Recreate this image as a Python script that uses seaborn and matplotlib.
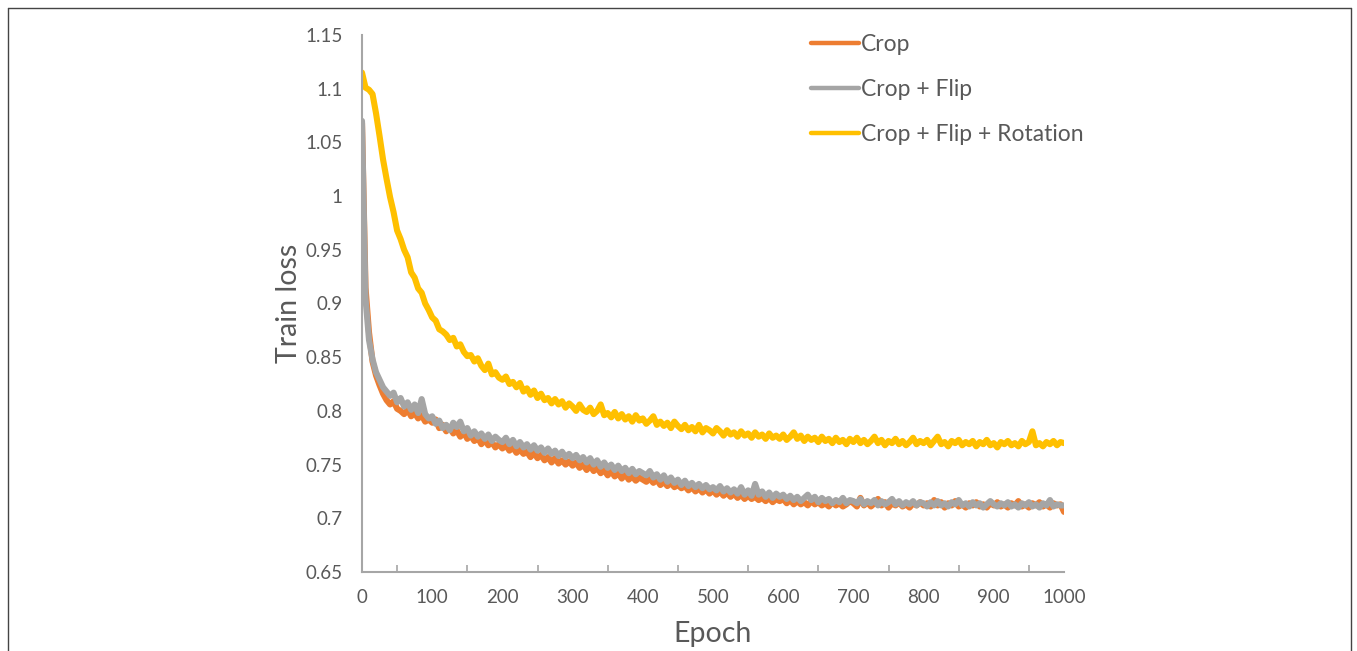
import numpy as np
import pandas as pd
import matplotlib
matplotlib.use("Agg")
import matplotlib.pyplot as plt
import seaborn as sns
from matplotlib.lines import Line2D

# Values, one point every 5 epochs (0..1000)
epochs = list(range(0, 1001, 5))

crop = [
    1.068, 0.915, 0.873, 0.846, 0.833, 0.824, 0.816, 0.810, 0.806, 0.809, 0.802, 0.800, 0.797, 0.801, 0.795, 0.798, 0.793, 0.796, 0.790, 0.792,
    0.789, 0.792, 0.784, 0.787, 0.781, 0.785, 0.779, 0.782, 0.776, 0.780, 0.774, 0.777, 0.772, 0.775, 0.769, 0.773, 0.768, 0.771, 0.766, 0.769,
    0.765, 0.768, 0.763, 0.766, 0.761, 0.764, 0.760, 0.762, 0.757, 0.761, 0.756, 0.759, 0.754, 0.757, 0.752, 0.756, 0.751, 0.754, 0.750, 0.753,
    0.749, 0.752, 0.747, 0.750, 0.745, 0.749, 0.744, 0.747, 0.742, 0.745, 0.740, 0.744, 0.739, 0.742, 0.737, 0.741, 0.736, 0.739, 0.735, 0.738,
    0.736, 0.734, 0.737, 0.733, 0.736, 0.731, 0.734, 0.730, 0.733, 0.729, 0.731, 0.728, 0.730, 0.726, 0.729, 0.725, 0.728, 0.724, 0.727, 0.723,
    0.726, 0.722, 0.725, 0.721, 0.724, 0.720, 0.723, 0.719, 0.722, 0.718, 0.721, 0.718, 0.720, 0.717, 0.719, 0.716, 0.719, 0.715, 0.718, 0.716,
    0.718, 0.714, 0.717, 0.713, 0.716, 0.713, 0.715, 0.712, 0.716, 0.713, 0.715, 0.712, 0.714, 0.711, 0.715, 0.712, 0.714, 0.711, 0.713, 0.716,
    0.714, 0.711, 0.719, 0.712, 0.715, 0.711, 0.714, 0.718, 0.712, 0.715, 0.710, 0.714, 0.712, 0.715, 0.711, 0.713, 0.710, 0.714, 0.712, 0.715,
    0.712, 0.714, 0.711, 0.717, 0.712, 0.715, 0.710, 0.714, 0.712, 0.716, 0.711, 0.713, 0.710, 0.714, 0.712, 0.715, 0.711, 0.713, 0.710, 0.714,
    0.712, 0.715, 0.711, 0.713, 0.710, 0.714, 0.712, 0.716, 0.711, 0.713, 0.710, 0.714, 0.712, 0.715, 0.711, 0.713, 0.710, 0.714, 0.712, 0.713,
    0.706,
]

crop_flip = [
    1.070, 0.905, 0.866, 0.848, 0.836, 0.829, 0.822, 0.818, 0.814, 0.817, 0.808, 0.812, 0.804, 0.808, 0.801, 0.806, 0.798, 0.811, 0.797, 0.793,
    0.795, 0.788, 0.791, 0.784, 0.787, 0.782, 0.789, 0.785, 0.790, 0.781, 0.784, 0.777, 0.781, 0.776, 0.779, 0.774, 0.778, 0.772, 0.776, 0.773,
    0.771, 0.775, 0.769, 0.773, 0.767, 0.771, 0.766, 0.769, 0.764, 0.768, 0.763, 0.766, 0.761, 0.765, 0.760, 0.763, 0.758, 0.762, 0.757, 0.760,
    0.756, 0.759, 0.754, 0.757, 0.752, 0.756, 0.750, 0.754, 0.748, 0.752, 0.747, 0.750, 0.745, 0.749, 0.744, 0.747, 0.742, 0.746, 0.741, 0.744,
    0.742, 0.740, 0.744, 0.738, 0.741, 0.736, 0.740, 0.734, 0.738, 0.733, 0.736, 0.731, 0.735, 0.730, 0.733, 0.729, 0.732, 0.728, 0.731, 0.727,
    0.729, 0.726, 0.730, 0.725, 0.728, 0.724, 0.727, 0.723, 0.729, 0.722, 0.726, 0.721, 0.732, 0.722, 0.725, 0.720, 0.724, 0.719, 0.723, 0.720,
    0.722, 0.718, 0.721, 0.717, 0.720, 0.716, 0.719, 0.722, 0.717, 0.720, 0.715, 0.719, 0.716, 0.718, 0.714, 0.717, 0.715, 0.719, 0.714, 0.717,
    0.716, 0.714, 0.718, 0.713, 0.716, 0.714, 0.717, 0.712, 0.716, 0.713, 0.715, 0.718, 0.713, 0.716, 0.712, 0.715, 0.713, 0.716, 0.712, 0.715,
    0.714, 0.711, 0.715, 0.712, 0.716, 0.712, 0.714, 0.711, 0.715, 0.713, 0.717, 0.712, 0.714, 0.711, 0.715, 0.712, 0.714, 0.710, 0.713, 0.716,
    0.713, 0.711, 0.714, 0.712, 0.715, 0.711, 0.713, 0.710, 0.714, 0.712, 0.715, 0.711, 0.713, 0.710, 0.714, 0.712, 0.717, 0.711, 0.713, 0.712,
    0.712,
]

crop_flip_rot = [
    1.115, 1.101, 1.099, 1.095, 1.077, 1.056, 1.034, 1.016, 0.999, 0.985, 0.968, 0.960, 0.950, 0.943, 0.929, 0.924, 0.914, 0.910, 0.900, 0.894,
    0.887, 0.884, 0.876, 0.874, 0.871, 0.866, 0.868, 0.860, 0.862, 0.855, 0.851, 0.852, 0.846, 0.849, 0.842, 0.838, 0.844, 0.834, 0.836, 0.831,
    0.829, 0.832, 0.825, 0.827, 0.822, 0.826, 0.818, 0.821, 0.815, 0.819, 0.812, 0.816, 0.810, 0.812, 0.807, 0.811, 0.806, 0.809, 0.803, 0.807,
    0.804, 0.800, 0.806, 0.801, 0.799, 0.803, 0.797, 0.800, 0.806, 0.796, 0.798, 0.794, 0.799, 0.793, 0.797, 0.792, 0.795, 0.790, 0.796, 0.791,
    0.793, 0.788, 0.791, 0.795, 0.787, 0.790, 0.786, 0.789, 0.784, 0.790, 0.786, 0.783, 0.787, 0.782, 0.785, 0.781, 0.787, 0.780, 0.784, 0.782,
    0.779, 0.784, 0.781, 0.777, 0.782, 0.778, 0.780, 0.776, 0.781, 0.777, 0.779, 0.775, 0.780, 0.776, 0.778, 0.774, 0.779, 0.775, 0.777, 0.774,
    0.778, 0.773, 0.776, 0.780, 0.774, 0.777, 0.772, 0.776, 0.773, 0.775, 0.771, 0.776, 0.772, 0.774, 0.770, 0.775, 0.771, 0.773, 0.769, 0.774,
    0.771, 0.775, 0.770, 0.773, 0.769, 0.772, 0.776, 0.770, 0.773, 0.768, 0.772, 0.770, 0.774, 0.769, 0.772, 0.768, 0.771, 0.775, 0.769, 0.772,
    0.770, 0.773, 0.768, 0.772, 0.776, 0.769, 0.771, 0.767, 0.772, 0.770, 0.773, 0.768, 0.771, 0.769, 0.772, 0.767, 0.771, 0.769, 0.773, 0.768,
    0.770, 0.766, 0.771, 0.769, 0.772, 0.768, 0.770, 0.767, 0.772, 0.769, 0.771, 0.781, 0.768, 0.770, 0.767, 0.771, 0.769, 0.772, 0.768, 0.771,
    0.770,
]

labels = ["Crop", "Crop + Flip", "Crop + Flip + Rotation"]
colors = ["#ED7D31", "#A5A5A5", "#FFC000"]

df = pd.concat([
    pd.DataFrame({"Epoch": epochs, "loss": vals, "setting": name})
    for name, vals in zip(labels, [crop, crop_flip, crop_flip_rot])
])

sns.set_theme(style="white")
plt.rcParams["font.family"] = ["Lato", "DejaVu Sans"]
text_col = "#595959"
axis_col = "#A6A6A6"

W, H = 1357, 651
fig = plt.figure(figsize=(W / 100, H / 100), dpi=100)
ax = fig.add_axes([362 / W, 1 - 572 / H, (1064 - 362) / W, (572 - 35) / H])

sns.lineplot(data=df, x="Epoch", y="loss", hue="setting", hue_order=labels,
             palette=colors, estimator=None, linewidth=4.4, ax=ax)

ax.set_xlim(0, 1000)
ax.set_ylim(0.65, 1.15)
ax.set_xticks(np.arange(0, 1001, 100))
ax.set_xticks(np.arange(0, 1001, 50), minor=True)
ax.set_yticks(np.arange(0.65, 1.1501, 0.05))
ax.yaxis.set_major_formatter(plt.FuncFormatter(lambda v, p: f"{round(v, 2):g}"))

for s in ["top", "right"]:
    ax.spines[s].set_visible(False)
for s in ["left", "bottom"]:
    ax.spines[s].set_color(axis_col)
    ax.spines[s].set_linewidth(1.5)

ax.tick_params(axis="both", which="both", direction="in", length=5, width=1.2,
               color=axis_col, labelcolor=text_col, labelsize=13.5)
ax.tick_params(axis="x", which="major", pad=12)
ax.tick_params(axis="y", which="major", pad=14)
ax.tick_params(axis="x", which="minor", bottom=True)

ax.set_xlabel("Epoch", fontsize=20.5, color=text_col, labelpad=11)
ax.set_ylabel("Train loss", fontsize=20.5, color=text_col, labelpad=2)

leg = ax.legend(loc="upper left", bbox_to_anchor=(790 / W, 1 - 13 / H),
                bbox_transform=fig.transFigure, frameon=False, fontsize=16.5,
                handlelength=2.1, handletextpad=0.1, labelspacing=1.05)
for line in leg.get_lines():
    line.set_linewidth(3.2)
for t in leg.get_texts():
    t.set_color(text_col)

# thin frame around the picture, as in the screenshot
fx = lambda px: px / W
fy = lambda py: 1 - py / H
fig.add_artist(Line2D([fx(8), fx(1351)], [fy(8), fy(8)], color="#444444", lw=1, transform=fig.transFigure))
fig.add_artist(Line2D([fx(8), fx(8)], [fy(8), 0], color="#444444", lw=1, transform=fig.transFigure))
fig.add_artist(Line2D([fx(1351), fx(1351)], [fy(8), 0], color="#444444", lw=1, transform=fig.transFigure))

fig.savefig("out.png", dpi=100)
